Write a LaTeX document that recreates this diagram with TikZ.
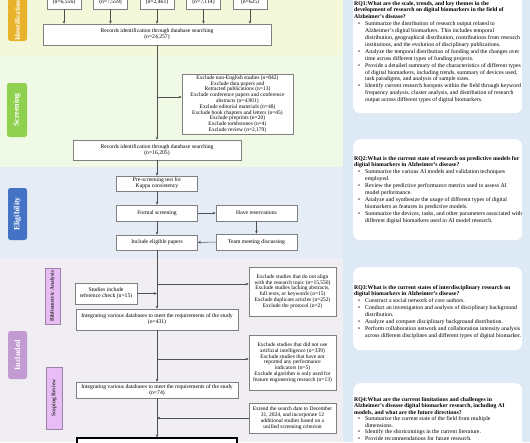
\documentclass[tikz,border=0pt]{standalone}
\usepackage{fontspec}
\setmainfont{Liberation Serif}
\usetikzlibrary{arrows.meta}
\definecolor{bandY}{HTML}{F4F8DA}
\definecolor{bandG}{HTML}{F0F9E6}
\definecolor{bandB}{HTML}{E5ECF5}
\definecolor{bandP}{HTML}{F0EEF3}
\definecolor{rpanel}{HTML}{DDE9F5}
\definecolor{cIdent}{HTML}{E8B32A}
\definecolor{cScreen}{HTML}{8FD14F}
\definecolor{cElig}{HTML}{4472C4}
\definecolor{cIncl}{HTML}{C39BD3}
\definecolor{subfill}{HTML}{E8BCF4}
\definecolor{subdraw}{HTML}{9A82A8}
\definecolor{boxgray}{HTML}{808080}
\definecolor{arrgray}{HTML}{505050}
\newcommand{\rqlist}[1]{\begin{list}{\textbullet}{\setlength{\leftmargin}{11pt}\setlength{\labelsep}{5pt}\setlength{\labelwidth}{4pt}\setlength{\itemsep}{0pt}\setlength{\parsep}{0pt}\setlength{\topsep}{0pt}\setlength{\partopsep}{0pt}}#1\end{list}}
\newcommand{\rqfont}{\fontsize{5.8}{6.9}\selectfont}
\begin{document}
\begin{tikzpicture}[x=1pt,y=-1pt,
  box/.style={draw=boxgray, fill=white, line width=0.5pt, inner sep=1pt, align=center, font=\fontsize{5.65}{6.1}\selectfont},
  exbox/.style={box, font=\fontsize{5.5}{5.8}\selectfont},
  arr/.style={draw=arrgray, line width=0.5pt, -{Stealth[length=3pt,width=2.6pt]}},
  stage/.style={rounded corners=2.5pt, text=white, font=\fontsize{8}{9}\selectfont\bfseries, rotate=90, inner sep=0},
  sublab/.style={fill=subfill, draw=subdraw, line width=0.5pt, text=black!80, font=\fontsize{5.5}{6}\selectfont\bfseries, rotate=90, inner sep=0},
  rq/.style={fill=white, rounded corners=7pt, inner sep=0, anchor=north west},
  rqtext/.style={anchor=base west, inner sep=0}
]
\useasboundingbox (0,0) rectangle (530,442);
\clip (0,0) rectangle (530,442);
% background bands
\fill[bandY] (0,0) rectangle (343,55);
\fill[bandG] (0,55) rectangle (343,167);
\fill[bandB] (0,167) rectangle (343,258);
\fill[bandP] (0,258) rectangle (343,442);
\fill[rpanel] (343,0) rectangle (530,442);

% stage labels
\node[stage, fill=cIdent, minimum width=54, minimum height=19] (lid) at (17.5,14) {};
\node[rotate=90, text=white, font=\fontsize{7}{8}\selectfont\bfseries, inner sep=0] (lidt) at (17.5,20.5) {Identification};
\node[stage, fill=cScreen, minimum width=54, minimum height=20] (lsc) at (17,110) {Screening};
\node[stage, fill=cElig, minimum width=52, minimum height=19] (lel) at (17.5,214) {Eligibility};
\node[stage, fill=cIncl, minimum width=48, minimum height=19] (lin) at (17.5,355) {Included};
\node[sublab, minimum width=56, minimum height=15] (lbib) at (52.5,296) {Bibliometric Analysis};
\node[sublab, minimum width=62, minimum height=16] (lscp) at (54,398) {Scoping Review};

% top source boxes
\node[box, minimum width=34, minimum height=14] (s1) at (64,2) {(n=6,556)};
\node[box, minimum width=34, minimum height=14] (s2) at (110.5,2) {(n=7,559)};
\node[box, minimum width=34, minimum height=14] (s3) at (157,2) {(n=2,461)};
\node[box, minimum width=34, minimum height=14] (s4) at (203.5,2) {(n=7,114)};
\node[box, minimum width=34, minimum height=14] (s5) at (250,2) {(n=625)};

\node[box, minimum width=228, minimum height=21] (r1) at (157,34.5) {Records identification through database searching\\(n=24,257)};
\foreach \s in {s1,s2,s3,s4,s5} \draw[arr] (\s) -- (\s |- r1.north);

\node[exbox, minimum width=111, minimum height=60] (ex1) at (237.5,104) {Exclude non-English studies (n=842)\\Exclude data papers and\\Retracted publications (n=13)\\Exclude conference papers and conference\\abstracts (n=4,901)\\Exclude editorial materials (n=48)\\Exclude book chapters and letters (n=45)\\Exclude preprints (n=20)\\Exclude tombstones (n=4)\\Exclude review (n=2,179)};

\node[box, minimum width=168, minimum height=20] (r2) at (157,150) {Records identification through database searching\\(n=16,205)};
\draw[arr] (r1) -- (r2);
\coordinate (b1) at (157,97);
\draw[arr] (b1) -- (b1 -| ex1.west);

\node[box, minimum width=81, minimum height=15] (pre) at (157,183.5) {Pre-screening test for\\Kappa consistency};
\node[box, minimum width=81, minimum height=16] (formal) at (157,213) {Formal screening};
\node[box, minimum width=81, minimum height=16] (have) at (256.5,213) {Have reservations};
\node[box, minimum width=81, minimum height=16] (team) at (256.5,242) {Team meeting discussing};
\node[box, minimum width=81, minimum height=15] (incl) at (157,242.5) {Include eligible papers};
\draw[arr] (r2) -- (pre);
\draw[arr] (pre) -- (formal);
\draw[arr] (formal) -- (have);
\draw[arr] (have) -- (team);
\draw[arr] (team) -- (incl);
\draw[arr] (formal) -- (incl);

\node[exbox, minimum width=87, minimum height=49] (ex2) at (292.5,291.5) {Exclude studies that do not align\\with the research topic (n=15,550)\\Exclude studies lacking abstracts,\\full texts, or keywords (n=15)\\Exclude duplicate articles (n=252)\\Exclude the protocol (n=2)};
\node[box, minimum width=62, minimum height=21] (ref) at (106,293.5) {Studies include\\reference check (n=15)};
\node[box, minimum width=162, minimum height=21] (int1) at (157,319.5) {Integrating various databases to meet the requirements of the study\\(n=431)};
\draw[arr] (incl) -- (int1);
\coordinate (b2) at (157,284);
\draw[arr] (b2) -- (b2 -| ex2.west);
\draw[arr] (ref) -- (ref -| incl);

\node[exbox, minimum width=87, minimum height=55] (ex3) at (292.5,362.5) {Exclude studies that did not use\\artificial intelligence (n=339)\\Exclude studies that have not\\reported any performance\\indicators (n=5)\\Exclude algorithm is only used for\\feature engineering research (n=13)};
\node[box, minimum width=162, minimum height=16] (int2) at (157,390) {Integrating various databases to meet the requirements of the study\\(n=74)};
\coordinate (b3) at (157,359);
\draw[arr] (b3) -- (b3 -| ex3.west);
\draw[arr] (int1) -- (int2);

\node[exbox, minimum width=87, minimum height=30] (ext) at (292.5,418) {Extend the search date to December\\31, 2024, and incorporate 12\\additional studies based on a\\unified screening criterion};
\node[box, draw=black, line width=1.2pt, minimum width=160, minimum height=22] (fin) at (157,449) {};
\draw[arr] (int2) -- (fin);
\draw[arr] (ext) -- (ext -| int2);

% research questions
\node[rq, minimum width=169, minimum height=123] (q1) at (353,-10) {};
\node[rq, minimum width=169, minimum height=101] (q2) at (353,139) {};
\node[rq, minimum width=169, minimum height=83] (q3) at (353,267) {};
\node[rq, minimum width=169, minimum height=80] (q4) at (353,383) {};

\node[rqtext] (q1t) at (354,5) {\begin{minipage}[t]{174pt}\rqfont\raggedright
\textbf{RQ1:What are the scale, trends, and key themes in the\\development of research on digital biomarkers in the field of\\Alzheimer's disease?}\par
\rqlist{\item Summarize the distribution of research output related to\\Alzheimer's digital biomarkers. This includes temporal\\distribution, geographical distribution, contributions from research\\institutions, and the evolution of disciplinary publications.
\item Analyze the temporal distribution of funding and the changes over\\time across different types of funding projects.
\item Provide a detailed summary of the characteristics of different types\\of digital biomarkers, including trends, summary of devices used,\\task paradigms, and analysis of sample sizes.
\item Identify current research hotspots within the field through keyword\\frequency analysis, cluster analysis, and distribution of research\\output across different types of digital biomarkers.}
\end{minipage}};

\node[rqtext] (q2t) at (354,160) {\begin{minipage}[t]{174pt}\rqfont\raggedright
\textbf{RQ2:What is the current state of research on predictive models for\\digital biomarkers in Alzheimer's disease?}\par
\rqlist{\item Summarize the various AI models and validation techniques\\employed.
\item Review the predictive performance metrics used to assess AI\\model performance.
\item Analyze and synthesize the usage of different types of digital\\biomarkers as features in predictive models.
\item Summarize the devices, tasks, and other parameters associated with\\different digital biomarkers used in AI model research.}
\end{minipage}};

\node[rqtext] (q3t) at (354,289) {\begin{minipage}[t]{174pt}\rqfont\raggedright
\textbf{RQ3:What is the current states of interdisciplinary research on\\digital biomarkers in Alzheimer's disease?}\par
\rqlist{\item Construct a social network of core authors.
\item Conduct an investigation and analysis of disciplinary background\\distribution.
\item Analyze and compare disciplinary background distribution.
\item Perform collaboration network and collaboration intensity analysis\\across different disciplines and different types of digital biomarker.}
\end{minipage}};

\node[rqtext] (q4t) at (354,401) {\begin{minipage}[t]{174pt}\fontsize{5.8}{6.5}\selectfont\raggedright
\textbf{RQ4:What are the current limitations and challenges in\\Alzheimer's disease digital biomarker research, including AI\\models, and what are the future directions?}\par
\rqlist{\item Summarize the current state of the field from multiple\\dimensions.
\item Identify the shortcomings in the current literature.
\item Provide recommendations for future research.}
\end{minipage}};
\end{tikzpicture}
\end{document}
